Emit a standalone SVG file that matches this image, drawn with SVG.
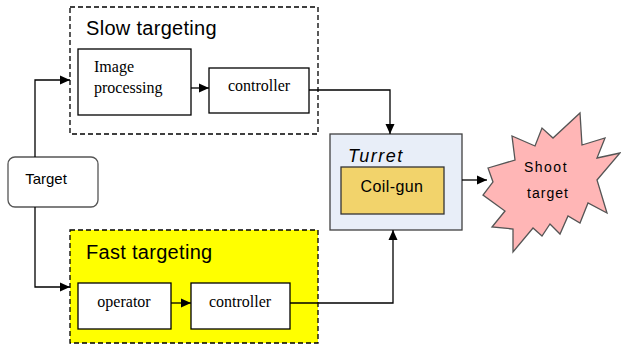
<svg xmlns="http://www.w3.org/2000/svg" width="621" height="350" viewBox="0 0 621 350">
<defs>
<marker id="ah" markerUnits="userSpaceOnUse" markerWidth="11" markerHeight="10" refX="10" refY="5" orient="auto">
<path d="M0,0.5 L10,5 L0,9.5 z" fill="#000"/>
</marker>
<style>
.box{fill:#fff;stroke:#000;stroke-width:1.3}
.dash{stroke:#000;stroke-width:1.3;stroke-dasharray:5,3}
.serif{font-family:"Liberation Serif","Times New Roman",serif;font-size:16px;fill:#000}
.sans{font-family:"Liberation Sans",Arial,sans-serif;fill:#000}
.conn{fill:none;stroke:#000;stroke-width:1.3;marker-end:url(#ah)}
</style>
</defs>
<rect width="621" height="350" fill="#fff"/>
<g id="slow-targeting">
<rect x="70" y="7" width="248" height="127" fill="#fff" class="dash"/>
<text x="86" y="35" class="sans" font-size="20" letter-spacing="0.3">Slow targeting</text>
</g>
<g id="fast-targeting">
<rect x="70" y="230" width="248" height="113" fill="#FFFF00" class="dash"/>
<text x="86" y="259" class="sans" font-size="20" letter-spacing="0.3">Fast targeting</text>
</g>
<g id="image-processing">
<rect x="78" y="49" width="113" height="66" class="box"/>
<text x="94" y="72" class="serif">Image</text>
<text x="94" y="93" class="serif">processing</text>
</g>
<g id="controller-1">
<rect x="209" y="68" width="100" height="45" class="box"/>
<text x="259" y="91" text-anchor="middle" class="serif">controller</text>
</g>
<g id="operator">
<rect x="78" y="283" width="93" height="46" class="box"/>
<text x="124" y="307" text-anchor="middle" class="serif">operator</text>
</g>
<g id="controller-2">
<rect x="191" y="283" width="99" height="46" class="box"/>
<text x="240" y="307" text-anchor="middle" class="serif">controller</text>
</g>
<g id="target">
<rect x="8" y="157" width="90" height="50" rx="7" fill="#fff" stroke="#555" stroke-width="1.3"/>
<text x="46" y="184" text-anchor="middle" class="sans" font-size="15">Target</text>
</g>
<g id="turret">
<rect x="330" y="134" width="132" height="96" fill="#E8EEF8" stroke="#404040" stroke-width="1.3"/>
<text x="348" y="162" class="sans" font-size="18" font-style="italic" letter-spacing="1.5">Turret</text>
<rect x="341" y="167" width="103" height="47" fill="#F2D36B" stroke="#333" stroke-width="1.3"/>
<text x="392" y="192" text-anchor="middle" class="sans" font-size="16" letter-spacing="0.4">Coil-gun</text>
</g>
<g id="shoot-target">
<polygon points="488,168 515,160 512,136 535,146 542,128 553,138 580,113 582,145 605,138 597,158 620,153 597,180 607,213 588,203 580,223 568,216 560,234 550,224 542,236 533,228 513,252 513,229 492,227 505,211 483,195 493,182" fill="#FFB6B6" stroke="#555" stroke-width="1.3"/>
<text x="546" y="172" text-anchor="middle" class="sans" font-size="14" letter-spacing="1.5">Shoot</text>
<text x="548" y="198" text-anchor="middle" class="sans" font-size="14" letter-spacing="1">target</text>
</g>
<g id="connectors">
<path class="conn" d="M35,157 V80 H70"/>
<path class="conn" d="M35,207 V287 H70"/>
<path class="conn" d="M191,88 H209"/>
<path class="conn" d="M171,303 H191"/>
<path class="conn" d="M309,90 H390 V134"/>
<path class="conn" d="M290,303 H393 V230"/>
<path class="conn" d="M462,180 H487"/>
</g>
</svg>
